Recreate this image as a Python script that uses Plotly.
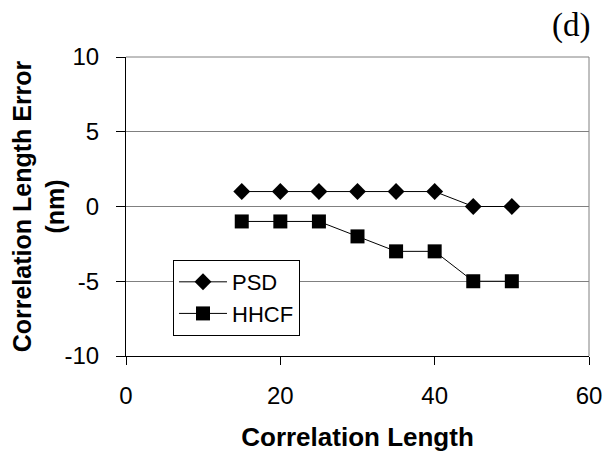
import plotly.graph_objects as go

x_vals = [15, 20, 25, 30, 35, 40, 45, 50]
psd = [1, 1, 1, 1, 1, 1, 0, 0]
hhcf = [-1, -1, -1, -2, -3, -3, -5, -5]
y_ticks = [-10, -5, 0, 5, 10]
y_tick_labels = ["-10", "-5", "0", "5", "10"]
x_ticks = [0, 20, 40, 60]

fig = go.Figure()
fig.add_trace(go.Scatter(x=x_vals, y=psd, name="PSD", mode="lines+markers",
                         line=dict(color="black", width=1),
                         marker=dict(symbol="diamond", size=13, color="black")))
fig.add_trace(go.Scatter(x=x_vals, y=hhcf, name="HHCF", mode="lines+markers",
                         line=dict(color="black", width=1),
                         marker=dict(symbol="square", size=14, color="black")))

font = "Liberation Sans, Arial, sans-serif"
fig.update_layout(
    width=608, height=452,
    margin=dict(l=118, r=27, t=49, b=104),
    paper_bgcolor="white", plot_bgcolor="white",
    showlegend=True,
    legend=dict(x=0.1015, y=0.321, xanchor="left", yanchor="top",
                bgcolor="white", bordercolor="black", borderwidth=1,
                font=dict(family=font, size=22, color="black"),
                itemwidth=48, tracegroupgap=0),
    xaxis=dict(range=[0, 60], tickvals=x_ticks, showgrid=False,
               showline=True, linecolor="black", linewidth=1,
               ticks="outside", ticklen=8, tickcolor="black",
               ticklabelstandoff=10, automargin=False,
               tickfont=dict(family=font, size=24, color="black"),
               title=dict(text="<b>Correlation Length</b>",
                          font=dict(family=font, size=26, color="black"),
                          standoff=20),
               zeroline=False),
    yaxis=dict(range=[-10, 10], tickvals=y_ticks, ticktext=y_tick_labels,
               showgrid=True, gridcolor="#808080", gridwidth=1,
               showline=True, linecolor="black", linewidth=1,
               ticks="outside", ticklen=9, tickcolor="black",
               ticklabelstandoff=12, automargin=False,
               tickfont=dict(family=font, size=24, color="black"),
               title=dict(text="<b>Correlation Length Error<br>(nm)</b>",
                          font=dict(family=font, size=25, color="black"),
                          standoff=4),
               zeroline=False),
    shapes=[
        dict(type="line", xref="paper", yref="paper", x0=0, x1=1, y0=1, y1=1,
             line=dict(color="#808080", width=1)),
        dict(type="line", xref="paper", yref="paper", x0=1, x1=1, y0=0, y1=1,
             line=dict(color="#808080", width=1)),
    ],
    annotations=[
        dict(text="(d)", xref="paper", yref="paper", x=1.0065, y=1.107,
             xanchor="right", yanchor="middle", showarrow=False,
             font=dict(family="Liberation Serif, Times New Roman, serif", size=33, color="black"))
    ],
)

fig.write_html("out.html")
